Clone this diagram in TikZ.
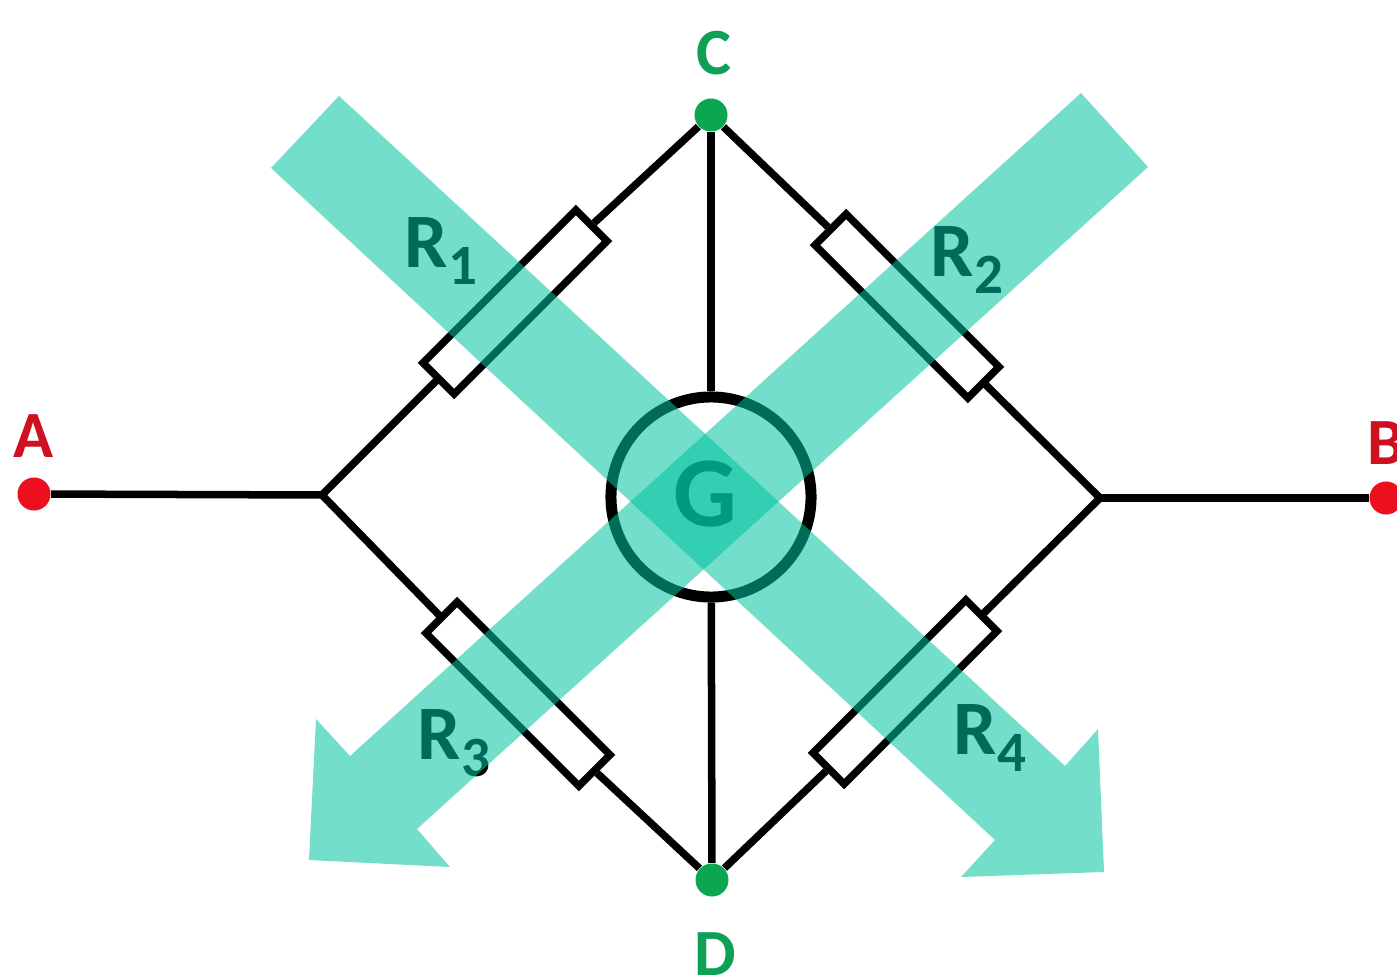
\documentclass[tikz,border=0pt]{standalone}
\usepackage{fontspec}
\setmainfont{Carlito}
\definecolor{wire}{HTML}{000000}
\definecolor{redterm}{HTML}{EC0F1E}
\definecolor{redlab}{HTML}{CE1020}
\definecolor{greenterm}{HTML}{0AA650}
\definecolor{greenlab}{HTML}{0FA058}
\definecolor{overlay}{HTML}{00C3A0}
\newcommand{\rsub}[1]{\raisebox{-0.17cm}{\bfseries\fontsize{0.57cm}{0.57cm}\selectfont #1}}
\tikzset{
  x=0.01cm,y=-0.01cm,
  wireline/.style={draw=wire,line width=0.075cm},
  resbox/.style={draw=wire,fill=white,line width=0.075cm,minimum width=2.16cm,minimum height=0.44cm,inner sep=0pt,shape=rectangle},
  dot/.style={circle,inner sep=0pt,minimum size=0.33cm},
  term/.style={font=\bfseries\fontsize{0.66cm}{0.66cm}\selectfont,inner sep=0pt},
  rlab/.style={font=\bfseries\fontsize{0.77cm}{0.77cm}\selectfont,inner sep=0pt,text=black},
  band/.style={fill=overlay,fill opacity=0.55,draw=none},
}
\begin{document}
\begin{tikzpicture}
\useasboundingbox (0,0) rectangle (1397,976);
\clip (0,0) rectangle (1397,976);
\fill[white] (0,0) rectangle (1397,976);
% terminals and junctions
\node[dot,fill=redterm] (A) at (34,494) {};
\node[dot,fill=redterm] (B) at (1386,498) {};
\node[dot,fill=greenterm] (C) at (711,115) {};
\node[dot,fill=greenterm] (D) at (712,880) {};
\coordinate (JL) at (322,495);
\coordinate (JR) at (1100,498);
\node[circle,draw=wire,fill=white,line width=0.11cm,minimum size=2cm,inner sep=0pt] (G) at (711,497) {};
% resistors
\node[resbox,rotate=45] (R1) at (515,302) {};
\node[resbox,rotate=-45] (R2) at (907,306) {};
\node[resbox,rotate=-45] (R3) at (518,694) {};
\node[resbox,rotate=45] (R4) at (905,692) {};
% connectors
\draw[wireline] (A) -- (JL);
\draw[wireline] (JR) -- (B);
\draw[wireline,line cap=round] (JL) -- (R1.west);
\draw[wireline] (R1.east) -- (C);
\draw[wireline] (C) -- (R2.west);
\draw[wireline,line cap=round] (R2.east) -- (JR);
\draw[wireline,line cap=round] (JL) -- (R3.west);
\draw[wireline] (R3.east) -- (D);
\draw[wireline] (D) -- (R4.west);
\draw[wireline,line cap=round] (R4.east) -- (JR);
\draw[wireline] (C) -- (G);
\draw[wireline] (G) -- (D);
% labels
\node[term,text=redlab] (LA) at (34,436) {A};
\node[term,text=redlab] (LB) at (1386,443) {B};
\node[term,text=greenlab] (LC) at (714,53) {C};
\node[term,text=greenlab] (LD) at (715,954) {D};
\node[font=\bfseries\fontsize{1.0cm}{1.0cm}\selectfont,inner sep=0pt,text=black] (LG) at (705,494) {G};
\node[rlab] (L1) at (441,251) {R\rsub{1}};
\node[rlab] (L2) at (967,260) {R\rsub{2}};
\node[rlab] (L3) at (454,743) {R\rsub{3}};
\node[rlab] (L4) at (990,738) {R\rsub{4}};
% overlay arrows
\fill[band] (339,96) -- (271,168) -- (995,840) -- (961,877) -- (1104,872) -- (1098,729) -- (1065,766) -- cycle;
\fill[band] (1081,93) -- (1148,167) -- (417,829) -- (450,867) -- (309,860) -- (316,719) -- (350,756) -- cycle;
\end{tikzpicture}
\end{document}
